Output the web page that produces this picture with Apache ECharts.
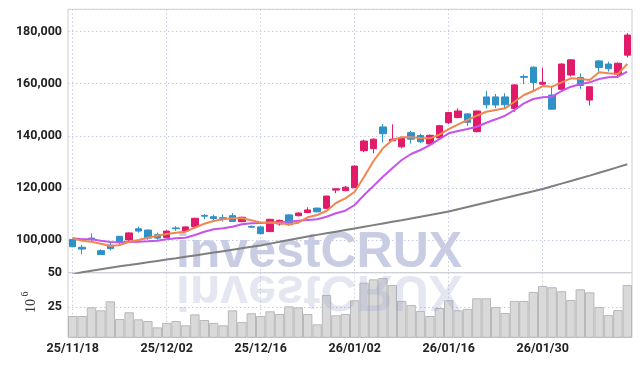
<!DOCTYPE html>
<html><head><meta charset="utf-8">
<script src="https://cdn.jsdelivr.net/npm/echarts@6/dist/echarts.min.js"></script>
<style>html,body{margin:0;padding:0;background:#fff}#c{width:642px;height:366px}</style>
</head><body><div id="c"></div>
<script>
const dates = ['25/11/18','25/11/19','25/11/20','25/11/21','25/11/24','25/11/25','25/11/26','25/11/27','25/11/28','25/12/01',
'25/12/02','25/12/03','25/12/04','25/12/05','25/12/08','25/12/09','25/12/10','25/12/11','25/12/12','25/12/15',
'25/12/16','25/12/17','25/12/18','25/12/19','25/12/22','25/12/23','25/12/24','25/12/26','25/12/29','25/12/30',
'26/01/02','26/01/05','26/01/06','26/01/07','26/01/08','26/01/09','26/01/12','26/01/13','26/01/14','26/01/15',
'26/01/16','26/01/19','26/01/20','26/01/21','26/01/22','26/01/23','26/01/26','26/01/27','26/01/28','26/01/29',
'26/01/30','26/02/02','26/02/03','26/02/04','26/02/05','26/02/06','26/02/09','26/02/10','26/02/11','26/02/12'];

const openP = [100300,97300,100800,96000,98100,101500,100100,104400,103900,102100,
101000,104700,103500,105200,109500,109000,108600,109400,107100,105300,
105100,103300,106200,109700,109400,110600,112300,112200,119200,119000,
120100,134300,135100,143400,138100,135800,141200,140100,136900,139200,
145000,147000,148400,141600,154900,154900,154900,150500,162700,166300,
159800,155600,157800,163300,162300,153700,168700,167500,163500,170900];
const closeP = [97500,96600,100400,94500,96800,99100,102800,103500,100800,100800,
103500,104400,105100,108400,109200,108300,108300,107200,108800,105000,
102500,108000,107600,105900,110400,111600,110900,116900,119700,120300,
128400,138000,138700,140800,138700,139000,138700,137700,140200,143900,
148900,149500,145200,149500,151900,151800,151900,159500,162400,160400,
160500,150200,167500,169100,159300,158800,166200,165700,167800,178600];
const lowP = [97300,94600,99400,94400,96100,98400,99400,102900,100200,100200,
100800,103600,103300,105000,108100,107600,107100,107000,106900,104700,
102300,103100,105600,105600,109100,110300,110600,112000,118000,118700,
120000,133700,133300,137500,138000,135200,137000,137300,136600,138900,
144500,146700,143800,141300,150500,150600,150500,149200,159800,157400,
159600,150100,157500,162700,158000,151600,164600,164600,162100,170000];
const highP = [100500,98200,102600,96500,99000,101600,103000,105200,104000,102900,
103800,105400,105300,108600,110000,109800,109900,110400,109000,105600,
105300,108200,107900,109900,110700,112600,112500,117100,119800,120800,
128700,138500,139000,144500,144400,139500,141900,140800,140500,144200,
149200,150500,148700,149700,157200,156000,156300,159800,163500,166600,
166100,159100,167800,169400,163900,159000,169000,168400,168100,179300];

const maShort = [100730,99810,99430,98660,97780,98160,99430,100080,100960,101720,
102380,102870,103260,104790,106320,107360,108010,108390,108390,107620,
106780,106700,106470,106090,106700,108770,109650,111190,114250,116050,
118580,124330,130340,135210,138390,139420,139420,139150,139040,140420,
142520,144400,146050,147700,149230,149880,150530,153060,155630,157160,
159070,158810,160490,162020,161760,161370,164320,163940,163670,167500];
const maMid = [100730,100340,100340,99810,99310,99200,99310,99430,99580,99810,
100340,100730,100960,101990,103260,104180,104560,105170,106090,106470,
106590,106860,106970,107090,107470,107740,108010,109000,110310,111300,
113490,117320,120760,124330,127540,130720,133020,134560,136470,138690,
140950,141830,142600,143480,145010,146320,147700,149880,152450,154090,
154740,154980,157160,158810,159730,160490,161760,162410,162640,164550];
const maLong = [86900,87700,88300,88900,89450,90000,90500,91020,91540,92050,
92570,93100,93640,94180,94710,95250,95800,96350,96900,97450,
98010,98690,99370,100050,100740,101420,102040,102660,103280,103900,
104520,105150,105780,106400,107030,107660,108330,109000,109660,110330,
111000,111860,112720,113580,114430,115290,116150,117020,117880,118740,
119610,120640,121670,122700,123720,124750,125830,126910,128000,129080];
const volume = [18.7,18.7,25.0,22.8,29.3,16.5,21.4,16.3,15.1,10.5,
13.7,15.1,12.0,19.9,15.8,13.7,12.0,22.8,14.4,20.7,
18.7,22.1,20.2,25.7,25.0,20.2,12.7,33.9,19.2,20.2,
30.1,42.8,45.2,46.2,41.1,29.6,26.7,22.3,18.7,24.5,
30.1,22.8,23.8,31.5,31.5,25.2,20.9,29.6,29.6,36.1,
40.4,39.5,36.6,30.3,38.0,35.8,25.2,19.4,23.0,41.1];

const FONT = "Roboto,'Liberation Sans',sans-serif";
const dotted = {show:true, lineStyle:{color:'#c8cce0', type:[1.5,2.5], width:1}};
const xSplit = {show:true, alignWithLabel:true, interval:9, lineStyle:{color:'#c8cce0', type:[1.5,2.5], width:1}};
const lbl = {fontFamily:FONT, fontWeight:'bold', fontSize:12.5, color:'#222'};

const chart = echarts.init(document.getElementById('c'));
chart.setOption({
  animation:false,
  backgroundColor:'#fff',
  grid:[
    {left:68, right:10, top:9.3, height:263.4, show:true, borderColor:'#cfcfcf', borderWidth:1},
    {left:68, right:10, top:272.7, height:64.6, show:true, borderColor:'#cfcfcf', borderWidth:1}
  ],
  xAxis:[
    {type:'category', gridIndex:0, data:dates, boundaryGap:true,
     axisLine:{show:false}, axisTick:{show:false}, axisLabel:{show:false}, splitLine:xSplit},
    {type:'category', gridIndex:1, data:dates, boundaryGap:true,
     axisLine:{show:false}, axisTick:{show:false},
     axisLabel:Object.assign({interval:9, margin:5}, lbl), splitLine:xSplit}
  ],
  yAxis:[
    {type:'value', gridIndex:0, min:87550, max:188470, minInterval:20000, maxInterval:20000,
     axisLine:{show:false}, axisTick:{show:false},
     axisLabel:Object.assign({showMinLabel:false, showMaxLabel:false, margin:6,
       formatter:v=>v.toLocaleString('en-US')}, lbl),
     splitLine:dotted},
    {type:'value', gridIndex:1, min:3.32, max:50, minInterval:25, maxInterval:25,
     axisLine:{show:false}, axisTick:{show:false},
     axisLabel:Object.assign({showMinLabel:false, margin:6}, lbl),
     splitLine:dotted}
  ],
  graphic:[
    {type:'text', z:1, x:319, y:253, style:{text:'investCRUX', font:"bold 50px 'Liberation Sans',sans-serif", fill:'#c8cde4', align:'center', verticalAlign:'middle'}},
    {type:'group', z:10, x:319, y:272, scaleY:-1, children:[
      {type:'text', z:10, x:0, y:-18, style:{text:'investCRUX', font:"bold 50px 'Liberation Sans',sans-serif", fill:'rgba(150,160,205,0.26)', align:'center', verticalAlign:'middle'}}
    ]},
    {type:'text', x:31, y:306, rotation:Math.PI/2, style:{text:'10', font:"14px 'Liberation Serif',serif", fill:'#333', align:'center', verticalAlign:'middle'}},
    {type:'text', x:25.5, y:294, rotation:Math.PI/2, style:{text:'6', font:"10px 'Liberation Serif',serif", fill:'#333', align:'center', verticalAlign:'middle'}}
  ],
  series:[
    {type:'bar', xAxisIndex:1, yAxisIndex:1, data:volume, barCategoryGap:'0%',
     itemStyle:{color:'#d9d9d9', borderColor:'#b8b8b8', borderWidth:1}},
    {type:'line', xAxisIndex:0, yAxisIndex:0, data:maLong, showSymbol:false, clip:true,
     lineStyle:{color:'#7f7f7f', width:2}},
    {type:'line', xAxisIndex:0, yAxisIndex:0, data:maMid, showSymbol:false,
     lineStyle:{color:'#c653ec', width:2}},
    {type:'line', xAxisIndex:0, yAxisIndex:0, data:maShort, showSymbol:false,
     lineStyle:{color:'#f0874f', width:2}},
    {type:'candlestick', xAxisIndex:0, yAxisIndex:0, barWidth:7,
     data:dates.map((d,i)=>[openP[i], closeP[i], lowP[i], highP[i]]),
     itemStyle:{color:'#e21a6a', color0:'#2e91c8', borderColor:'#e21a6a', borderColor0:'#2e91c8', borderWidth:1}}
  ]
});
</script></body></html>
